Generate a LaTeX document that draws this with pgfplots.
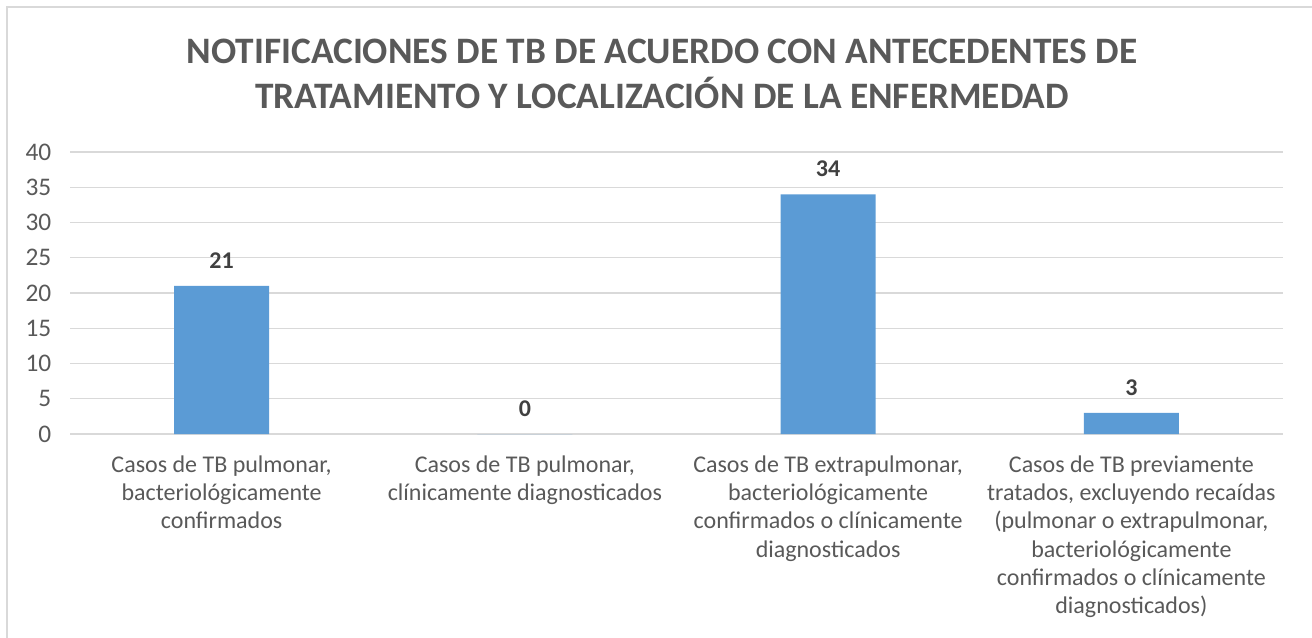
\documentclass[border=0pt]{standalone}
\usepackage{fontspec}
\setmainfont{Carlito}
\usepackage{pgfplots}
\pgfplotsset{compat=1.18}
\definecolor{barblue}{HTML}{5B9BD5}
\definecolor{txtgray}{HTML}{595959}
\definecolor{gridgray}{HTML}{D9D9D9}
\definecolor{lblgray}{HTML}{404040}
\begin{document}
\begin{tikzpicture}
\useasboundingbox (0,0) rectangle (984pt,-478.5pt);
\draw[gridgray, line width=0.9pt] (5.25pt,-5.25pt) rectangle (990pt,-490pt);
\node[txtgray, font=\fontsize{28}{34.3}\selectfont\bfseries, align=center] at (496.5pt,-55.4pt)
  {NOTIFICACIONES DE TB DE ACUERDO CON ANTECEDENTES DE\\TRATAMIENTO Y LOCALIZACIÓN DE LA ENFERMEDAD};
\begin{axis}[
  at={(52.5pt,-325.5pt)}, anchor=south west,
  scale only axis, width=909.75pt, height=211.5pt,
  xmin=-0.5, xmax=3.5, ymin=0, ymax=40,
  ytick={0,5,...,40},
  xtick={0,1,2,3},
  xticklabels={{Casos de TB pulmonar,\\bacteriológicamente\\confirmados},
               {Casos de TB pulmonar,\\clínicamente diagnosticados},
               {Casos de TB extrapulmonar,\\bacteriológicamente\\confirmados o clínicamente\\diagnosticados},
               {Casos de TB previamente\\tratados, excluyendo recaídas\\(pulmonar o extrapulmonar,\\bacteriológicamente\\confirmados o clínicamente\\diagnosticados)}},
  xticklabel style={align=center, font=\fontsize{18}{21.25}\selectfont, text=txtgray, yshift=-12.5pt},
  yticklabel style={font=\fontsize{19}{22}\selectfont, text=txtgray, xshift=-10.5pt},
  /pgf/number format/assume math mode=true,
  axis line style={draw=none},
  major tick length=0pt,
  ymajorgrids, grid style={gridgray, line width=0.9pt},
  ybar, bar width=71.25pt,
  nodes near coords,
  every node near coord/.append style={font=\fontsize{18}{22}\selectfont\bfseries, text=lblgray, anchor=center, yshift=19pt},
]
\addplot[fill=barblue, draw=none] coordinates {(0,21) (1,0) (2,34) (3,3)};
\end{axis}
\end{tikzpicture}
\end{document}
